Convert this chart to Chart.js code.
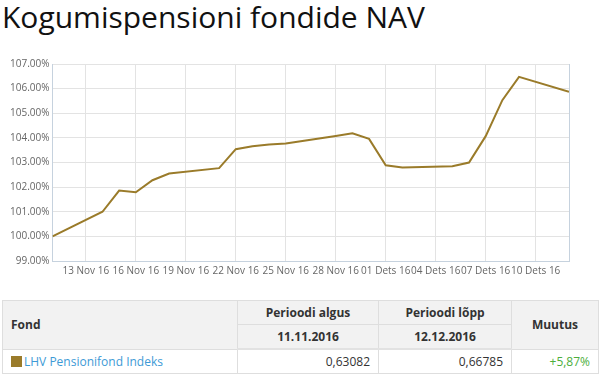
<!DOCTYPE html>
<html>
<head>
<meta charset="utf-8">
<script src="https://cdn.jsdelivr.net/npm/chart.js@4"></script>
<style>
  body { margin: 0; background: #fff; font-family: "Open Sans", sans-serif; }
  #title { position: absolute; left: 2px; top: -4px; font-size: 30px; color: #111; font-weight: 400; white-space: nowrap; }
  #wrap { position: absolute; left: 0; top: 50px; width: 602px; height: 240px; }
  table { position: absolute; left: 2px; top: 300px; width: 597px; border-collapse: collapse; font-size: 12px; color: #333; }
  th, td { border: 1px solid #dedede; padding: 0 8px; height: 23px; }
  th { background: #f2f2f2; font-weight: 700; text-align: center; }
  thead tr:last-child th { border-bottom: 2px solid #e2e2e2; }
  th.left { text-align: left; }
  td.num { text-align: right; }
  td.pos { text-align: right; color: #4cae3c; }
  a { color: #3d9ad6; text-decoration: none; }
  .sw { display: inline-block; width: 11px; height: 11px; background: #9a7b2a; vertical-align: -1px; margin-right: 2px; }
</style>
</head>
<body>
<div id="title">Kogumispensioni fondide NAV</div>
<div id="wrap"><canvas id="nav" width="602" height="240"></canvas></div>
<table>
  <thead>
    <tr>
      <th class="left" rowspan="2" style="width:218px">Fond</th>
      <th style="width:124px">Perioodi algus</th>
      <th style="width:116px">Perioodi lõpp</th>
      <th rowspan="2">Muutus</th>
    </tr>
    <tr>
      <th>11.11.2016</th>
      <th>12.12.2016</th>
    </tr>
  </thead>
  <tbody>
    <tr>
      <td><span class="sw"></span><a href="#">LHV Pensionifond Indeks</a></td>
      <td class="num">0,63082</td>
      <td class="num">0,66785</td>
      <td class="pos">+5,87%</td>
    </tr>
  </tbody>
</table>
<script>
// trading days and NAV relative to the first day (%)
var dates = ["2016-11-11","2016-11-14","2016-11-15","2016-11-16","2016-11-17","2016-11-18",
  "2016-11-21","2016-11-22","2016-11-23","2016-11-24","2016-11-25","2016-11-28","2016-11-29",
  "2016-11-30","2016-12-01","2016-12-02","2016-12-05","2016-12-06","2016-12-07","2016-12-08",
  "2016-12-09","2016-12-12"];
var navPct = [100.00, 101.00, 101.86, 101.79, 102.28, 102.55, 102.77, 103.54, 103.66, 103.73,
  103.77, 104.08, 104.19, 103.96, 102.89, 102.80, 102.85, 103.00, 104.07, 105.53, 106.48, 105.87];

var tickDates = ["2016-11-13","2016-11-16","2016-11-19","2016-11-22","2016-11-25","2016-11-28",
  "2016-12-01","2016-12-04","2016-12-07","2016-12-10"];
var tickLabels = ["13 Nov 16","16 Nov 16","19 Nov 16","22 Nov 16","25 Nov 16","28 Nov 16",
  "01 Dets 16","04 Dets 16","07 Dets 16","10 Dets 16"];

var startDate = "2016-11-11", endDate = "2016-12-12";

function dayOf(s) {
  var p = s.split("-");
  return Math.round((Date.UTC(+p[0], p[1] - 1, +p[2]) - Date.UTC(2016, 10, 11)) / 86400000);
}

var points = dates.map(function (d, i) { return { x: dayOf(d), y: navPct[i] }; });
var tickDays = tickDates.map(dayOf);
var lastDay = dayOf(endDate);
var labelByDay = {};
tickDays.forEach(function (d, i) { labelByDay[d] = tickLabels[i]; });

var gridColor = "#e3e3e3";
var axisColor = "#c6d2de";

new Chart(document.getElementById("nav"), {
  type: 'line',
  data: {
    datasets: [{
      label: "LHV Pensionifond Indeks",
      data: points,
      borderColor: "#9a7b2a",
      borderWidth: 2,
      pointRadius: 0,
      tension: 0,
      fill: false
    }]
  },
  options: {
    responsive: false,
    animation: false,
    devicePixelRatio: 1,
    layout: { padding: { top: 14, right: 33, left: 0, bottom: 0 } },
    plugins: { legend: { display: false }, tooltip: { enabled: false } },
    scales: {
      x: {
        type: 'linear',
        min: dayOf(startDate),
        max: lastDay,
        afterBuildTicks: function (scale) {
          scale.ticks = tickDays.concat([lastDay]).map(function (v) { return { value: v }; });
        },
        afterFit: function (scale) { scale.height = 29; },
        grid: {
          drawTicks: false,
          color: function (ctx) { return ctx.tick && ctx.tick.value === lastDay ? axisColor : gridColor; }
        },
        border: { color: axisColor },
        ticks: {
          autoSkip: false,
          maxRotation: 0,
          padding: 4,
          color: "#666",
          font: { family: "Open Sans", size: 10 },
          callback: function (v) { return labelByDay[v] || ""; }
        }
      },
      y: {
        min: 99,
        max: 107,
        afterFit: function (scale) { scale.width = 52.5; },
        grid: { drawTicks: false, color: gridColor },
        border: { color: axisColor },
        ticks: {
          stepSize: 1,
          padding: 3,
          color: "#666",
          font: { family: "Open Sans", size: 10 },
          callback: function (v) { return v.toFixed(2) + "%"; }
        }
      }
    }
  }
});
</script>
</body>
</html>
